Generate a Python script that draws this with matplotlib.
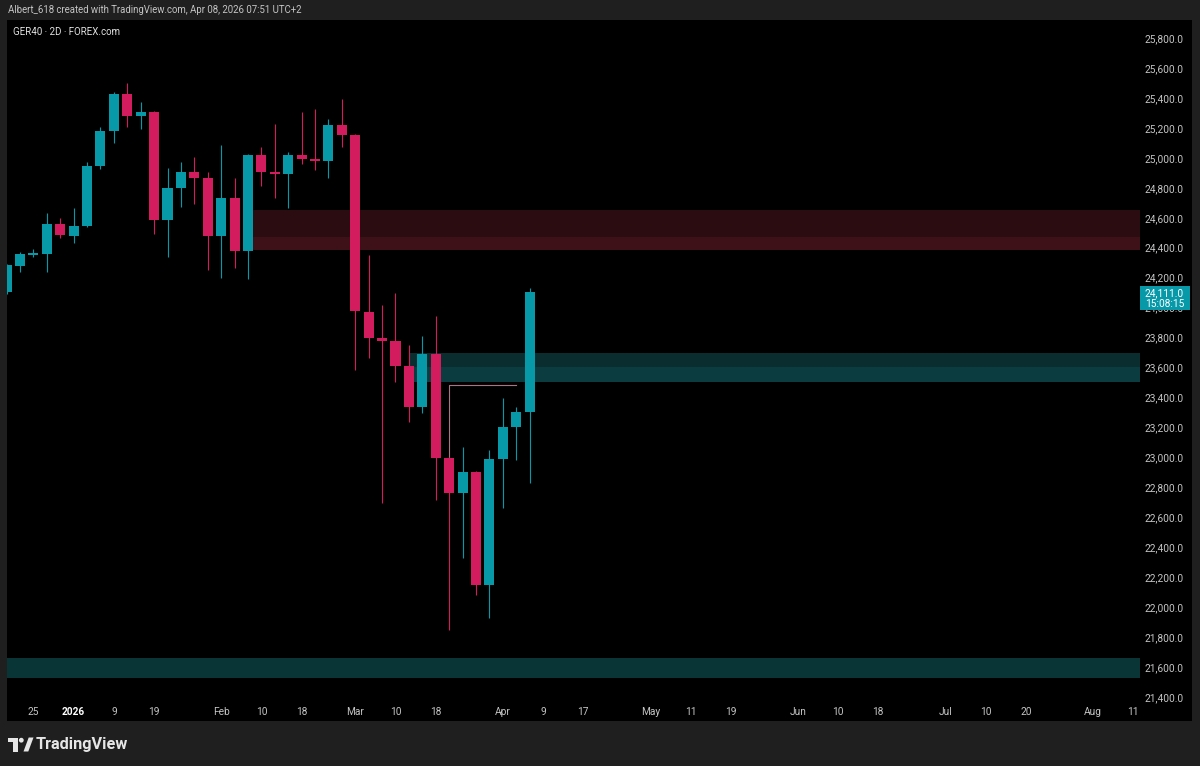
import numpy as np
import matplotlib.pyplot as plt
from matplotlib.patches import Rectangle, Polygon, Circle

plt.rcParams['font.family'] = ['Roboto', 'DejaVu Sans']

# GER40 2D candles, index 0 = leftmost (cut) candle
opens  = [24110, 24284, 24360, 24364, 24565, 24485, 24551, 24952, 25186, 25433,
          25286, 25313, 24591, 24805, 24912, 24872, 24485, 24738, 24385, 25025,
          24912, 24900, 25025, 24999, 24986, 25226, 25159, 23980, 23804, 23784,
          23617, 23343, 23697, 23002, 22769, 22909, 22154, 22996, 23209, 23309]
highs  = [24300, 24378, 24398, 24638, 24605, 24672, 24979, 25212, 25446, 25506,
          25379, 25320, 24939, 24979, 25012, 24912, 25092, 24872, 25030, 25079,
          25233, 25046, 25313, 25333, 25266, 25400, 25165, 24358, 24024, 24104,
          23757, 23817, 23950, 23010, 23076, 22915, 23056, 23403, 23343, 24137]
lows   = [24100, 24244, 24344, 24244, 24470, 24438, 24545, 24932, 25106, 25212,
          25199, 24498, 24344, 24678, 24698, 24258, 24204, 24271, 24197, 24818,
          24738, 24672, 24965, 24925, 24872, 25079, 23590, 23670, 22702, 23510,
          23243, 23303, 22722, 21854, 22335, 22088, 21934, 22669, 22989, 22835]
closes = [24291, 24364, 24372, 24565, 24491, 24551, 24952, 25186, 25433, 25286,
          25313, 24591, 24805, 24912, 24872, 24485, 24738, 24385, 25025, 24912,
          24900, 25025, 24999, 24986, 25226, 25159, 23984, 23804, 23784, 23617,
          23343, 23697, 23002, 22769, 22909, 22154, 22996, 23209, 23309, 24111]

# zones (price bands) and the drawn level
supply_top, supply_mid, supply_bot = 24658, 24478, 24391
demand_top, demand_mid, demand_bot = 23703, 23610, 23510
low_zone_top, low_zone_bot = 21667, 21533
level_price = 23490

yticks = np.arange(21400, 25801, 200)
xtick_idx = [2, 5, 8, 11, 16, 19, 22, 26, 29, 32, 37, 40, 43, 48, 51, 54, 59, 62, 65, 70, 73, 76, 81, 84]
xtick_txt = ['25', '2026', '9', '19', 'Feb', '10', '18', 'Mar', '10', '18', 'Apr', '9', '17',
             'May', '11', '19', 'Jun', '10', '18', 'Jul', '10', '20', 'Aug', '11']

UP = '#0899a9'; DN = '#d21c5d'; TXT = '#c4c4c4'
W, H = 1200, 766
fig = plt.figure(figsize=(12, 7.66), dpi=100, facecolor='#1f1f1f')

# pixel overlay for header and logo
bg = fig.add_axes([0, 0, 1, 1], zorder=-1)
bg.set_xlim(0, W); bg.set_ylim(H, 0); bg.axis('off')
bg.text(8, 10, 'Albert_618 created with TradingView.com, Apr 08, 2026 07:51 UTC+2',
        color=TXT, fontsize=6.9, va='center', ha='left')
bg.add_patch(Polygon([(8, 737.5), (18, 737.5), (18, 751.5), (13.2, 751.5), (13.2, 742.2), (8, 742.2)],
                     color='#e6e6e6', lw=0))
bg.add_patch(Circle((21.3, 740.2), 2.4, color='#e6e6e6', lw=0))
bg.add_patch(Polygon([(23.5, 751.5), (28.3, 751.5), (33.5, 737.5), (28.7, 737.5)], color='#e6e6e6', lw=0))
bg.text(36, 745, 'TradingView', color='#e6e6e6', fontsize=11.7, fontweight='bold', va='center', ha='left')

x0, dx = 6.6, 13.41
ax = fig.add_axes([7 / W, (H - 721) / H, 1185 / W, 701 / H], facecolor='black')
ax.set_xlim((7 - x0) / dx, (1192 - x0) / dx)
ax.set_ylim(21246, 25927)
for s in ax.spines.values():
    s.set_visible(False)
ax.set_xticks([]); ax.set_yticks([])

zone_end = (1140 - x0) / dx
ax.add_patch(Rectangle((18, supply_mid), zone_end - 18, supply_top - supply_mid, color='#2a0c11', lw=0, zorder=1))
ax.add_patch(Rectangle((18, supply_bot), zone_end - 18, supply_mid - supply_bot, color='#3e1017', lw=0, zorder=1))
ax.add_patch(Rectangle((30, demand_mid), zone_end - 30, demand_top - demand_mid, color='#0a2e30', lw=0, zorder=1))
ax.add_patch(Rectangle((30, demand_bot), zone_end - 30, demand_mid - demand_bot, color='#0b3d40', lw=0, zorder=1))
ax.add_patch(Rectangle(((7 - x0) / dx, low_zone_bot), zone_end, low_zone_top - low_zone_bot,
                       color='#0a3537', lw=0, zorder=1))

# candles
for i in range(len(opens)):
    o, h, l, c = opens[i], highs[i], lows[i], closes[i]
    col = UP if c >= o else DN
    ax.plot([i, i], [l, h], color=col, lw=0.8, zorder=3, solid_capstyle='butt')
    ax.add_patch(Rectangle((i - 0.375, min(o, c)), 0.75, max(abs(c - o), 12), color=col, lw=0, zorder=4))

# drawn level from the low candle
ax.plot([33, 33, 38], [closes[32], level_price, level_price], color='#a87585', lw=0.8, zorder=2)

# price scale
xr = (1184 - x0) / dx
for v in yticks:
    ax.text(xr, v, f'{v:,.1f}', color=TXT, fontsize=7.3, ha='right', va='center', zorder=5)
bx0 = zone_end
ax.add_patch(Rectangle((bx0, 23990), (1190 - x0) / dx - bx0, 24151 - 23990, color=UP, lw=0, zorder=6))
ax.text(xr, 24102, f'{closes[-1]:,.1f}', color='white', fontsize=7.3, ha='right', va='center', zorder=7)
ax.text(xr, 24030, '15:08:15', color='white', fontsize=7.3, ha='right', va='center', zorder=7)

# time scale
tr = ax.get_xaxis_transform()
for p, t in zip(xtick_idx, xtick_txt):
    bold = t == '2026'
    ax.text(p, 9 / 701, t, transform=tr, color='white' if bold else TXT, fontsize=7.3,
            fontweight='bold' if bold else 'normal', ha='center', va='center')

ax.text(0.005, 0.983, 'GER40 · 2D · FOREX.com', transform=ax.transAxes, color='#e0e0e0',
        fontsize=7.0, va='center', ha='left')

fig.savefig('out.png', dpi=100, facecolor=fig.get_facecolor())
